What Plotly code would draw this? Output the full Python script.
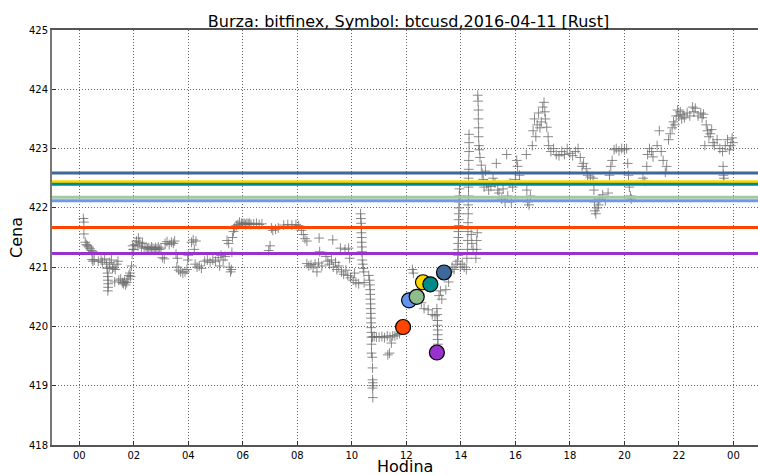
import plotly.graph_objects as go

# ---------------- data ----------------
title_text = "Burza: bitfinex, Symbol: btcusd,2016-04-11 [Rust]"
x_title = "Hodina"
y_title = "Cena"
x_tick_vals = [0, 2, 4, 6, 8, 10, 12, 14, 16, 18, 20, 22, 24]
x_tick_text = ["00", "02", "04", "06", "08", "10", "12", "14", "16", "18", "20", "22", "00"]
y_tick_vals = [418, 419, 420, 421, 422, 423, 424, 425]

# horizontal price levels
level_prices = [422.59, 422.44, 422.40, 422.18, 422.12, 421.67, 421.23]
level_colors = ["#3D6899", "#FFD700", "#008B8B", "#A3C9A3", "#6D98EE", "#FF4500", "#9932CC"]

# big circle markers
circle_hours = [11.88, 12.10, 12.38, 12.61, 12.88, 13.12, 13.38]
circle_prices = [419.99, 420.44, 420.50, 420.745, 420.71, 419.56, 420.91]
circle_colors = ["#FF4500", "#6495ED", "#8FBC8F", "#FFD700", "#008B8B", "#9932CC", "#3D6899"]

# trades (hour, price)
night_trades = [
    (0.15, 421.82), (0.17, 421.76), (0.17, 421.56), (0.22, 421.42), (0.26, 421.38), (0.30, 421.36),
    (0.35, 421.34), (0.40, 421.31), (0.45, 421.28), (0.50, 421.26), (0.47, 421.13), (0.50, 421.10),
    (0.55, 421.12), (0.70, 421.10), (0.80, 421.12), (0.85, 421.08), (0.93, 421.14), (1.00, 421.05),
    (1.02, 420.98), (1.04, 420.90), (1.05, 420.84), (1.05, 420.78), (1.06, 420.72), (1.06, 420.66),
    (1.05, 420.60), (1.10, 421.00), (1.12, 421.08), (1.18, 421.12), (1.22, 420.98), (1.27, 421.00),
    (1.32, 420.96), (1.38, 421.05), (1.42, 421.10), (1.30, 420.75), (1.45, 420.78), (1.52, 420.80),
    (1.58, 420.74), (1.62, 420.72), (1.66, 420.76), (1.70, 420.70), (1.74, 420.74), (1.78, 420.80),
    (1.82, 420.86), (1.86, 420.90), (1.88, 420.84), (1.92, 421.02), (1.94, 421.22), (1.96, 421.36),
    (1.98, 421.30),
]
morning_trades = [
    (2.00, 421.30), (2.05, 421.38), (2.10, 421.44), (2.15, 421.36), (2.17, 421.49), (2.22, 421.42),
    (2.28, 421.34), (2.32, 421.40), (2.38, 421.32), (2.45, 421.34), (2.50, 421.31), (2.55, 421.33),
    (2.60, 421.30), (2.65, 421.34), (2.70, 421.32), (2.75, 421.30), (2.80, 421.33), (2.85, 421.31),
    (2.90, 421.34), (2.95, 421.30), (3.00, 421.32), (3.05, 421.16), (3.12, 421.14), (3.15, 421.40),
    (3.22, 421.43), (3.30, 421.38), (3.38, 421.42), (3.45, 421.40), (3.50, 421.44), (3.55, 421.22),
    (3.60, 421.15), (3.58, 421.00), (3.65, 420.95), (3.72, 420.92), (3.80, 420.90), (3.88, 420.92),
    (3.95, 420.96), (3.98, 421.12), (4.00, 421.20), (4.12, 421.42), (4.18, 421.46), (4.22, 421.30),
    (4.28, 421.44), (4.25, 421.05), (4.32, 421.00), (4.40, 421.02), (4.48, 420.98), (4.60, 421.10),
    (4.70, 421.12), (4.80, 421.08), (4.90, 421.12), (5.00, 421.10), (5.10, 421.16), (5.15, 421.02),
    (5.20, 421.20), (5.28, 421.12), (5.35, 421.18), (5.42, 421.45), (5.48, 421.40), (5.50, 421.00),
    (5.55, 420.92), (5.58, 420.96), (5.60, 421.25), (5.62, 421.50), (5.66, 421.60), (5.70, 421.66),
    (5.76, 421.70), (5.82, 421.72), (5.88, 421.76),
]
midday_trades = [
    (5.95, 421.74), (6.00, 421.73), (6.05, 421.74), (6.10, 421.72), (6.15, 421.74), (6.20, 421.73),
    (6.25, 421.74), (6.30, 421.72), (6.40, 421.73), (6.50, 421.74), (6.60, 421.72), (6.70, 421.73),
    (6.95, 421.28), (7.00, 421.36), (7.05, 421.66), (7.10, 421.62), (7.20, 421.64), (7.30, 421.66),
    (7.50, 421.71), (7.65, 421.72), (7.80, 421.71), (7.95, 421.72), (8.05, 421.70), (8.15, 421.62),
    (8.22, 421.55), (8.28, 421.48), (8.35, 421.44), (8.35, 421.06), (8.42, 421.02), (8.50, 421.04),
    (8.58, 421.00), (8.65, 421.05), (8.72, 420.92), (8.78, 421.07), (8.80, 421.49), (8.82, 421.26),
    (8.90, 421.02), (9.05, 421.18), (9.12, 421.10), (9.18, 421.05), (9.25, 421.12), (9.30, 421.46),
    (9.32, 421.00), (9.40, 421.08), (9.45, 420.96), (9.52, 421.02), (9.58, 421.32), (9.62, 420.92),
    (9.70, 420.88), (9.75, 421.30), (9.78, 420.95), (9.85, 420.86), (9.88, 421.32), (9.92, 421.15),
    (9.95, 420.82), (10.05, 420.78), (10.10, 420.90), (10.15, 420.74), (10.25, 420.72), (10.32, 421.90),
    (10.33, 421.82), (10.34, 421.74), (10.35, 421.66), (10.35, 421.58), (10.36, 421.50), (10.36, 421.42),
    (10.37, 421.34), (10.37, 421.26), (10.38, 421.12), (10.40, 421.05), (10.42, 420.98), (10.44, 420.92),
    (10.45, 420.74),
]
drop_trades = [
    (10.62, 420.86), (10.65, 420.78), (10.66, 420.70), (10.67, 420.62), (10.68, 420.54), (10.68, 420.46),
    (10.69, 420.38), (10.69, 420.30), (10.70, 420.22), (10.70, 420.14), (10.71, 420.06), (10.71, 419.98),
    (10.72, 419.90), (10.72, 419.82), (10.76, 419.82), (10.82, 419.83), (10.90, 419.82), (11.00, 419.82),
    (11.10, 419.83), (11.20, 419.81), (11.30, 419.84), (11.40, 419.82), (11.50, 419.84), (10.72, 419.70),
    (10.72, 419.55), (10.75, 419.48), (10.76, 419.30), (10.76, 419.10), (10.77, 419.05), (10.78, 419.00),
    (10.76, 418.96), (10.77, 418.80), (11.32, 419.52), (11.38, 419.55), (11.45, 419.72), (11.58, 419.84),
    (11.66, 419.86), (11.75, 419.88),
]
rally_trades = [
    (12.22, 420.96), (12.26, 420.90), (12.55, 420.40), (12.65, 420.30), (12.80, 420.28), (12.95, 420.20),
    (13.05, 420.18), (13.12, 420.30), (13.13, 420.20), (13.14, 420.10), (13.14, 420.02), (13.15, 419.94),
    (13.15, 419.86), (13.15, 419.78), (13.16, 419.70), (13.20, 420.52), (13.30, 420.46), (13.25, 420.60),
    (13.45, 420.62), (13.55, 420.75), (13.60, 420.92), (13.68, 421.00), (13.75, 420.96), (13.82, 421.05),
    (13.88, 421.10), (13.90, 421.20), (13.90, 421.30), (13.90, 421.40), (13.91, 421.50), (13.91, 421.60),
    (13.92, 421.70), (13.92, 421.80), (13.93, 421.90), (13.93, 422.00), (13.94, 422.10), (13.94, 422.20),
    (13.95, 422.32), (13.98, 421.00), (14.05, 421.05), (14.12, 421.00), (14.20, 420.96), (14.22, 421.15),
    (14.24, 421.30), (14.25, 421.45), (14.26, 421.60), (14.26, 421.75), (14.27, 421.90), (14.27, 422.05),
    (14.28, 422.20), (14.28, 422.35), (14.28, 422.50), (14.29, 422.65), (14.29, 422.80), (14.30, 422.95),
    (14.30, 423.10), (14.30, 423.24), (14.38, 421.55), (14.40, 421.40), (14.45, 421.30), (14.55, 421.15),
    (14.58, 421.30), (14.58, 421.45), (14.60, 421.58), (14.62, 423.90), (14.63, 423.80), (14.64, 423.65),
    (14.64, 423.50), (14.65, 423.35), (14.65, 423.20), (14.66, 423.05), (14.68, 422.98), (14.70, 422.85),
    (14.75, 422.72), (14.78, 422.58), (14.82, 422.48), (14.85, 422.35), (14.90, 422.62), (14.95, 422.40),
    (15.02, 422.30), (15.10, 422.36), (15.18, 422.50), (15.25, 422.42), (15.30, 422.75), (15.35, 422.30),
]
afternoon_trades = [
    (15.40, 422.25), (15.50, 422.15), (15.55, 422.32), (15.62, 422.10), (15.68, 422.90), (15.72, 422.20),
    (15.80, 422.42), (15.85, 422.10), (15.90, 422.35), (16.00, 422.48), (16.05, 422.80), (16.08, 422.70),
    (16.15, 422.55), (16.40, 422.90), (16.42, 422.30), (16.45, 422.10), (16.50, 422.05), (16.55, 422.20),
    (16.62, 423.05), (16.65, 423.30), (16.70, 423.50), (16.75, 423.20), (16.80, 423.40), (16.85, 423.60),
    (16.90, 423.35), (16.95, 423.45), (17.00, 423.70), (17.05, 423.78), (17.08, 423.62), (17.10, 423.50),
    (17.15, 423.36), (17.20, 423.20), (17.22, 423.05), (17.30, 422.95), (17.40, 423.00), (17.50, 422.90),
    (17.60, 422.88), (17.70, 422.95), (17.80, 422.90), (17.90, 423.00), (18.00, 422.92), (18.10, 422.88),
    (18.20, 422.95), (18.30, 423.00), (18.38, 422.85), (18.45, 422.70), (18.50, 422.75), (18.60, 422.66),
    (18.65, 422.55), (18.75, 422.52), (18.85, 422.50), (18.88, 422.30), (18.90, 422.10), (18.92, 421.95),
    (18.95, 421.90), (19.00, 422.00), (19.05, 422.05), (19.10, 422.15), (19.20, 422.22), (19.30, 422.12),
    (19.40, 422.25),
]
evening_trades = [
    (19.45, 422.55), (19.50, 422.70), (19.55, 422.80), (19.62, 422.98), (19.70, 423.00), (19.80, 422.96),
    (19.90, 423.00), (20.00, 422.98), (20.08, 423.00), (20.12, 422.75), (20.15, 422.55), (20.18, 422.35),
    (20.22, 422.20), (20.25, 422.15), (20.68, 422.50), (20.75, 422.45), (20.82, 422.70), (20.85, 422.90),
    (20.92, 423.00), (21.00, 422.95), (21.05, 422.86), (21.20, 423.05), (21.28, 423.30), (21.35, 422.95),
    (21.42, 422.80), (21.50, 422.60), (21.55, 422.70), (21.62, 423.15), (21.68, 423.25), (21.75, 423.35),
    (21.80, 423.45), (21.85, 423.40), (21.90, 423.55), (21.95, 423.65), (22.00, 423.55), (22.05, 423.62),
    (22.10, 423.50), (22.15, 423.58), (22.20, 423.52), (22.30, 423.60), (22.40, 423.55), (22.50, 423.70),
    (22.55, 423.62), (22.60, 423.68), (22.70, 423.55), (22.80, 423.60), (22.85, 423.52), (22.90, 423.58),
    (22.95, 423.05), (23.00, 423.40), (23.05, 423.30), (23.10, 423.20), (23.15, 423.25), (23.20, 423.32),
    (23.25, 423.10), (23.30, 423.05), (23.40, 423.15), (23.50, 423.00), (23.60, 422.95), (23.62, 422.70),
    (23.63, 422.55), (23.65, 422.50), (23.70, 423.05), (23.78, 423.15), (23.85, 422.98), (23.90, 423.05),
    (23.95, 423.18), (23.98, 423.10),
]

# ---------------- figure ----------------
all_trades = (night_trades + morning_trades + midday_trades + drop_trades
              + rally_trades + afternoon_trades + evening_trades)
trade_hours = [t[0] for t in all_trades]
trade_prices = [t[1] for t in all_trades]

FONT = "DejaVu Sans"
fig = go.Figure()

fig.add_trace(go.Scatter(
    x=trade_hours, y=trade_prices, mode="markers",
    marker=dict(symbol="cross-thin", size=7,
                line=dict(width=1, color="rgba(110,110,110,0.8)")),
    showlegend=False, hoverinfo="skip",
))

for p, c in zip(level_prices, level_colors):
    fig.add_shape(type="line", xref="paper", x0=0, x1=1, yref="y", y0=p, y1=p,
                  line=dict(color=c, width=3), layer="above")

fig.add_trace(go.Scatter(
    x=circle_hours, y=circle_prices, mode="markers",
    marker=dict(size=15, color=circle_colors, line=dict(width=1.2, color="black")),
    showlegend=False,
))

# x-axis title placed as an annotation below the tick labels
fig.add_annotation(text=x_title, xref="paper", yref="paper", x=0.5, y=0,
                   xanchor="center", yanchor="middle", yshift=-21, showarrow=False,
                   font=dict(size=16, family=FONT, color="black"))

fig.update_layout(
    width=758, height=475,
    margin=dict(l=52, r=0, t=30, b=30),
    paper_bgcolor="white", plot_bgcolor="white",
    font=dict(family=FONT, color="black", size=10),
    title=dict(text=title_text, xref="paper", x=0.505, xanchor="center",
               y=0.956, yanchor="middle", font=dict(size=16, family=FONT)),
)
fig.update_xaxes(
    range=[-1, 24.9], tickvals=x_tick_vals, ticktext=x_tick_text,
    showgrid=True, gridcolor="#666", griddash="1px,2px", gridwidth=1,
    showline=True, linecolor="#555", linewidth=1.5, mirror=True,
    ticks="inside", ticklen=4, tickcolor="#333", zeroline=False,
    tickfont=dict(size=10, family=FONT),
    automargin=False,
)
fig.update_yaxes(
    range=[418, 425], tickvals=y_tick_vals, ticktext=[str(v) for v in y_tick_vals],
    showgrid=True, gridcolor="#666", griddash="1px,2px", gridwidth=1,
    showline=True, linecolor="#777", linewidth=2, mirror=False,
    ticks="inside", ticklen=4, tickcolor="#333", zeroline=False,
    tickfont=dict(size=10, family=FONT),
    title=dict(text=y_title, font=dict(size=16, family=FONT), standoff=2),
    automargin=False,
)

fig.write_html(
    "out.html",
    config={"displayModeBar": False},
    post_script="document.body.style.margin='0';document.body.style.overflow='hidden';",
)
